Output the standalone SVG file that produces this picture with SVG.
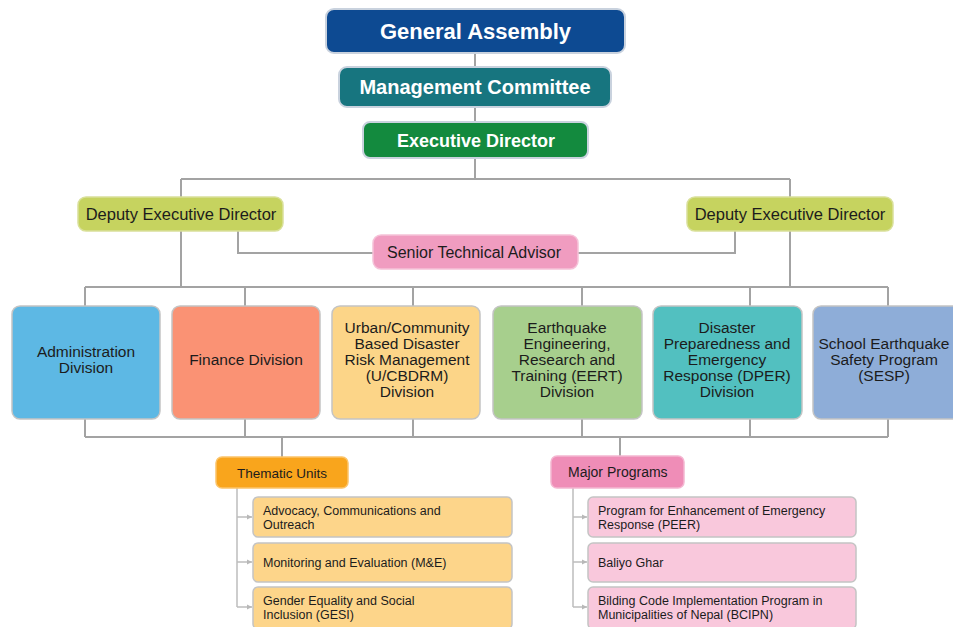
<svg xmlns="http://www.w3.org/2000/svg" width="953" height="627" viewBox="0 0 953 627">
<defs>
<marker id="ah" markerWidth="6" markerHeight="6" refX="5" refY="3" orient="auto" markerUnits="userSpaceOnUse">
<path d="M0,0.5 L5,3 L0,5.5 Z" fill="#b8b8b8"/>
</marker>
</defs>
<style>
text{font-family:"Liberation Sans",Arial,sans-serif;fill:#1c1c1c}
.hb{font-weight:bold;fill:#ffffff}
.top{stroke:#c9d2de;stroke-width:2}
.box{stroke:#c4c4c4;stroke-width:1.5}
.c{stroke:#a3a3a3;stroke-width:2;fill:none}
.s{stroke:#bdbdbd;stroke-width:1.5;fill:none}
.d{font-size:15.5px;text-anchor:middle}
.it{font-size:12.5px}
</style>
<rect width="953" height="627" fill="#ffffff"/>
<g id="connectors">
<path class="c" d="M475,53V67M475,107V122M475,158V179M181,179H790M181,179V197M790,179V197"/>
<path class="c" d="M181,231V287M790,231V287M238,231V253H373M735,231V253H578"/>
<path class="c" d="M85,287H888M85,287V306M245,287V306M413,287V306M582,287V306M750,287V306M888,287V306"/>
<path class="c" d="M85,419V437M245,419V437M413,419V437M582,419V437M750,419V437M888,419V437M85,437H888M282,437V457M620,437V456"/>
<path class="s" d="M237,488V607M573,488V607"/>
<line class="s" x1="237" y1="517" x2="252" y2="517" marker-end="url(#ah)"/>
<line class="s" x1="237" y1="562" x2="252" y2="562" marker-end="url(#ah)"/>
<line class="s" x1="237" y1="607" x2="252" y2="607" marker-end="url(#ah)"/>
<line class="s" x1="573" y1="517" x2="587" y2="517" marker-end="url(#ah)"/>
<line class="s" x1="573" y1="562" x2="587" y2="562" marker-end="url(#ah)"/>
<line class="s" x1="573" y1="607" x2="587" y2="607" marker-end="url(#ah)"/>
</g>
<g id="general-assembly">
<rect class="top" x="326" y="9" width="299" height="44" rx="8" fill="#0d4a92"/>
<text class="hb" x="475.5" y="38.5" font-size="22" text-anchor="middle">General Assembly</text>
</g>
<g id="management-committee">
<rect class="top" x="339" y="67" width="272" height="40" rx="8" fill="#17757f"/>
<text class="hb" x="475" y="94" font-size="20" text-anchor="middle">Management Committee</text>
</g>
<g id="executive-director">
<rect class="top" x="363" y="122" width="225" height="36" rx="7" fill="#138a3e"/>
<text class="hb" x="476" y="146.5" font-size="18" text-anchor="middle">Executive Director</text>
</g>
<g id="deputy-left">
<rect x="78" y="197" width="205" height="34" rx="8" fill="#c6d35f" stroke="#d9e09a" stroke-width="1.5"/>
<text x="181" y="219.5" font-size="16.5" text-anchor="middle">Deputy Executive Director</text>
</g>
<g id="deputy-right">
<rect x="687" y="197" width="206" height="34" rx="8" fill="#c6d35f" stroke="#d9e09a" stroke-width="1.5"/>
<text x="790" y="219.5" font-size="16.5" text-anchor="middle">Deputy Executive Director</text>
</g>
<g id="senior-technical-advisor">
<rect x="373" y="235" width="205" height="34" rx="8" fill="#f09cc0" stroke="#f5c2d8" stroke-width="1.5"/>
<text x="474" y="257.5" font-size="16" text-anchor="middle">Senior Technical Advisor</text>
</g>
<g id="administration">
<rect class="box" x="12" y="306" width="148" height="113" rx="8" fill="#5db8e4"/>
<text class="d" x="86" y="357">Administration</text>
<text class="d" x="86" y="373">Division</text>
</g>
<g id="finance">
<rect class="box" x="172" y="306" width="148" height="113" rx="8" fill="#fa9274"/>
<text class="d" x="246" y="365">Finance Division</text>
</g>
<g id="ucbdrm">
<rect class="box" x="332" y="306" width="148" height="113" rx="8" fill="#fcd588"/>
<text class="d" x="407" y="333">Urban/Community</text>
<text class="d" x="407" y="349">Based Disaster</text>
<text class="d" x="407" y="365">Risk Management</text>
<text class="d" x="407" y="381">(U/CBDRM)</text>
<text class="d" x="407" y="397">Division</text>
</g>
<g id="eert">
<rect class="box" x="493" y="306" width="149" height="113" rx="8" fill="#a7cf8d"/>
<text class="d" x="567" y="333">Earthquake</text>
<text class="d" x="567" y="349">Engineering,</text>
<text class="d" x="567" y="365">Research and</text>
<text class="d" x="567" y="381">Training (EERT)</text>
<text class="d" x="567" y="397">Division</text>
</g>
<g id="dper">
<rect class="box" x="653" y="306" width="149" height="113" rx="8" fill="#52c0c0"/>
<text class="d" x="727" y="333">Disaster</text>
<text class="d" x="727" y="349">Preparedness and</text>
<text class="d" x="727" y="365">Emergency</text>
<text class="d" x="727" y="381">Response (DPER)</text>
<text class="d" x="727" y="397">Division</text>
</g>
<g id="sesp">
<rect class="box" x="813" y="306" width="150" height="113" rx="8" fill="#8eadd8"/>
<text class="d" x="884" y="349" font-size="15px">School Earthquake</text>
<text class="d" x="884" y="365">Safety Program</text>
<text class="d" x="884" y="381">(SESP)</text>
</g>
<g id="thematic-units">
<rect x="216" y="457" width="132" height="31" rx="6" fill="#f9a51c" stroke="#fbc46a" stroke-width="1.5"/>
<text x="237" y="477.5" font-size="13.5">Thematic Units</text>
</g>
<g id="advocacy">
<rect class="box" x="253" y="497" width="259" height="40" rx="5" fill="#fdd58a"/>
<text class="it" x="263" y="515">Advocacy, Communications and</text>
<text class="it" x="263" y="528.5">Outreach</text>
</g>
<g id="monitoring">
<rect class="box" x="253" y="543" width="259" height="39" rx="5" fill="#fdd58a"/>
<text class="it" x="263" y="566.5">Monitoring and Evaluation (M&amp;E)</text>
</g>
<g id="gesi">
<rect class="box" x="253" y="587" width="259" height="42" rx="5" fill="#fdd58a"/>
<text class="it" x="263" y="605">Gender Equality and Social</text>
<text class="it" x="263" y="618.5">Inclusion (GESI)</text>
</g>
<g id="major-programs">
<rect x="551" y="456" width="133" height="32" rx="6" fill="#ef8db7" stroke="#f4b6d1" stroke-width="1.5"/>
<text x="568" y="477" font-size="14">Major Programs</text>
</g>
<g id="peer">
<rect class="box" x="588" y="497" width="268" height="40" rx="5" fill="#f9c8dc"/>
<text class="it" x="598" y="515">Program for Enhancement of Emergency</text>
<text class="it" x="598" y="528.5">Response (PEER)</text>
</g>
<g id="baliyo-ghar">
<rect class="box" x="588" y="543" width="268" height="39" rx="5" fill="#f9c8dc"/>
<text class="it" x="598" y="566.5">Baliyo Ghar</text>
</g>
<g id="bcipn">
<rect class="box" x="588" y="587" width="268" height="42" rx="5" fill="#f9c8dc"/>
<text class="it" x="598" y="605">Bilding Code Implementation Program in</text>
<text class="it" x="598" y="618.5">Municipalities of Nepal (BCIPN)</text>
</g>
</svg>
